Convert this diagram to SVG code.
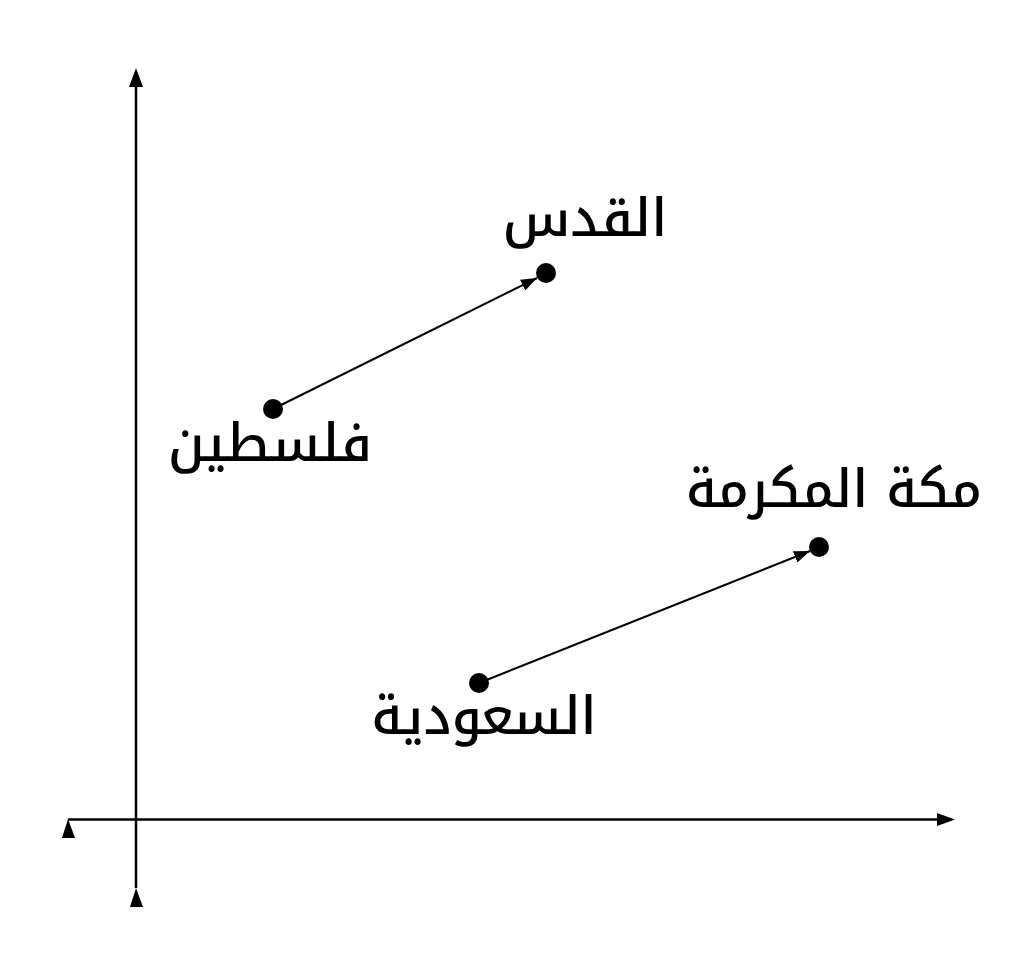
<svg xmlns="http://www.w3.org/2000/svg" width="1024" height="956" viewBox="0 0 1024 956">
<style>
.axis{stroke:#000;stroke-width:2.5;fill:none}
.conn{stroke:#000;stroke-width:2;fill:none}
.tri{fill:#000}
.dot{fill:#000}
.lbl{font-family:"Noto Kufi Arabic","DejaVu Sans",sans-serif;font-size:52px;font-weight:500;fill:#000;text-anchor:middle}
</style>
<defs>
<marker id="ah" markerWidth="16" markerHeight="12" refX="16" refY="6" orient="auto" markerUnits="userSpaceOnUse" viewBox="0 0 16 12">
<path d="M0,0 L16,6 L0,12 Z" fill="#000"/>
</marker>
</defs>
<rect width="1024" height="956" fill="#fff"/>
<g id="axes">
<line class="axis" x1="136" y1="888" x2="136" y2="84"/>
<polygon class="tri" points="136,68 129,87 143,87"/>
<polygon class="tri" points="136,888 130,907 143,907"/>
<line class="axis" x1="68" y1="819.5" x2="940" y2="819.5"/>
<polygon class="tri" points="955,819.5 937,813 937,826"/>
<polygon class="tri" points="68,819 62,838 75,838"/>
</g>
<g id="connectors">
<line class="conn" x1="273" y1="409" x2="537" y2="278" marker-end="url(#ah)"/>
<line class="conn" x1="479" y1="683" x2="810" y2="551" marker-end="url(#ah)"/>
</g>
<g id="node-palestine">
<circle class="dot" cx="273" cy="409" r="10"/>
<text class="lbl" x="270" y="461">فلسطين</text>
</g>
<g id="node-quds">
<circle class="dot" cx="546" cy="273" r="10"/>
<text class="lbl" x="585" y="236">القدس</text>
</g>
<g id="node-saudi">
<circle class="dot" cx="479" cy="683" r="10"/>
<text class="lbl" x="484" y="734">السعودية</text>
</g>
<g id="node-makkah">
<circle class="dot" cx="819" cy="547" r="10"/>
<text class="lbl" x="834" y="507">مكة المكرمة</text>
</g>
</svg>
